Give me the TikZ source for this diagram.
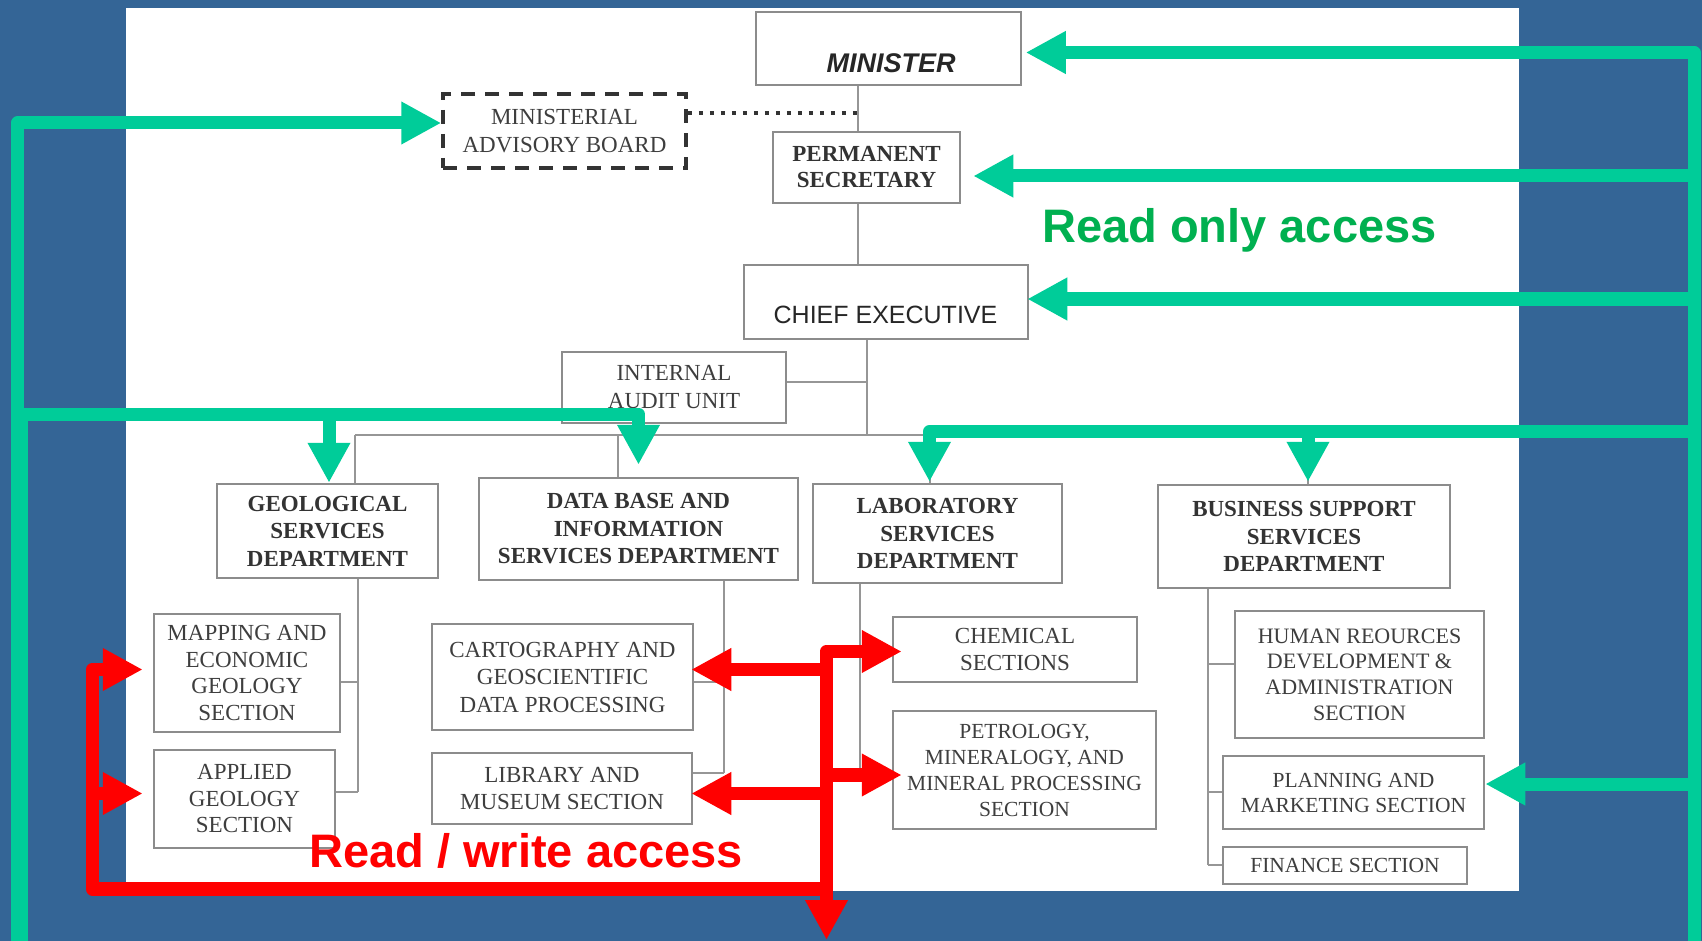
\documentclass[tikz,border=0pt]{standalone}
\usepackage{fontspec}
\setmainfont{Liberation Serif}
\newfontfamily\lsans{Liberation Sans}
\usetikzlibrary{arrows.meta,calc}
\definecolor{bgblue}{RGB}{52,101,150}
\definecolor{gline}{RGB}{0,204,153}
\definecolor{gtext}{RGB}{0,176,80}
\definecolor{rline}{RGB}{255,0,0}
\definecolor{boxgray}{RGB}{140,140,140}
\definecolor{txtgray}{RGB}{62,62,62}
\definecolor{lingray}{RGB}{150,150,150}
\begin{document}
\begin{tikzpicture}[x=1pt,y=-1pt,
  box/.style={draw=boxgray, line width=2.5pt, inner sep=0pt, align=center, text=txtgray, font=\fontsize{23}{26.5}\selectfont},
  dept/.style={box, text=black!80, font=\fontsize{23}{27.5}\selectfont\bfseries},
  link/.style={draw=lingray, line width=2pt},
  dotline/.style={draw=black!80, line width=3.5pt, dash pattern=on 4pt off 7pt},
  tip/.style={Triangle[length=40pt,width=40pt]},
  garrow/.style={draw=gline, line width=13pt, line join=round, -{Triangle[length=40pt,width=40pt]}},
  rarrow/.style={draw=rline, line width=13.5pt, line join=round, -{Triangle[length=40pt,width=40pt]}},
  bigtext/.style={anchor=base west, inner sep=0pt, font=\lsans\bfseries\fontsize{47}{50}\selectfont}
  ]
\useasboundingbox (0,0) rectangle (1702,941);
\fill[bgblue] (0,0) rectangle (1702,941);
\fill[white] (126,8) rectangle (1519,891);

% ---------- boxes ----------
\node[box, minimum width=265pt, minimum height=73pt] (minister) at (888.5,48.5) {};
\node[font=\lsans\bfseries\itshape\fontsize{27}{30}\selectfont, text=black!85, inner sep=0pt] (ministerT) at (891,63) {MINISTER};
\node[box, draw=black!80, line width=3.5pt, dash pattern=on 14pt off 10pt, minimum width=243pt, minimum height=74pt, font=\fontsize{23}{28}\selectfont] (mab) at (564.5,131) {MINISTERIAL\\ADVISORY BOARD};
\node[dept, minimum width=187pt, minimum height=71pt, font=\fontsize{23}{26}\selectfont\bfseries] (ps) at (866.5,167.5) {PERMANENT\\SECRETARY};
\node[box, minimum width=284pt, minimum height=74pt] (ce) at (886,302) {};
\node[font=\lsans\fontsize{25}{28}\selectfont, text=black!85, inner sep=0pt] (ceT) at (885.5,315) {CHIEF EXECUTIVE};
\node[box, minimum width=224pt, minimum height=71pt, font=\fontsize{23}{28}\selectfont] (iau) at (674,387.5) {INTERNAL\\AUDIT UNIT};

\node[dept, minimum width=221pt, minimum height=94pt] (gsd) at (327.5,531) {GEOLOGICAL\\SERVICES\\DEPARTMENT};
\node[dept, minimum width=319pt, minimum height=102pt] (dbis) at (638.5,529) {DATA BASE AND\\INFORMATION\\SERVICES DEPARTMENT};
\node[dept, minimum width=249pt, minimum height=99pt] (lsd) at (937.5,533.5) {LABORATORY\\SERVICES\\DEPARTMENT};
\node[dept, minimum width=292pt, minimum height=103pt] (bssd) at (1304,536.5) {BUSINESS SUPPORT\\SERVICES\\DEPARTMENT};

\node[box, minimum width=186pt, minimum height=118pt] (megs) at (247,673) {MAPPING AND\\ECONOMIC\\GEOLOGY\\SECTION};
\node[box, minimum width=181pt, minimum height=98pt] (ags) at (244.5,799) {APPLIED\\GEOLOGY\\SECTION};
\node[box, minimum width=261pt, minimum height=106pt, font=\fontsize{23}{27.5}\selectfont] (cgdp) at (562.5,677) {CARTOGRAPHY AND\\GEOSCIENTIFIC\\DATA PROCESSING};
\node[box, minimum width=260pt, minimum height=71pt] (lms) at (562,788.5) {LIBRARY AND\\MUSEUM SECTION};
\node[box, minimum width=244pt, minimum height=65pt] (cs) at (1015,649.5) {CHEMICAL\\SECTIONS};
\node[box, minimum width=263pt, minimum height=118pt, font=\fontsize{21.5}{26}\selectfont] (pmmp) at (1024.5,770) {PETROLOGY,\\MINERALOGY, AND\\MINERAL PROCESSING\\SECTION};
\node[box, minimum width=249pt, minimum height=127pt, font=\fontsize{22}{25.7}\selectfont] (hr) at (1359.5,674.5) {HUMAN REOURCES\\DEVELOPMENT \&\\ADMINISTRATION\\SECTION};
\node[box, minimum width=261pt, minimum height=73pt, font=\fontsize{21.5}{25}\selectfont] (pm) at (1353.5,792.5) {PLANNING AND\\MARKETING SECTION};
\node[box, minimum width=244pt, minimum height=37pt, font=\fontsize{21.5}{25}\selectfont] (fs) at (1345,865.5) {FINANCE SECTION};

% ---------- grey links ----------
\coordinate (vMP) at (858,0);
\draw[link] (vMP |- minister.south) -- (vMP |- ps.north);
\draw[link] (vMP |- ps.south) -- (vMP |- ce.north);
\coordinate (dotE) at (858,113);
\draw[dotline] (mab.east |- dotE) -- (dotE);
\coordinate (busC) at (867,435);
\draw[link] (busC |- ce.south) -- (busC);
\coordinate (iauJ) at (867,382);
\draw[link] (iau.east |- iauJ) -- (iauJ);
\coordinate (busL) at (355,435);
\coordinate (busR) at (1308,435);
\draw[link] (busL) -- (busR);
\draw[link] (busL) -- (busL |- gsd.north);
\coordinate (busDB) at (618,435);
\draw[link] (busDB) -- (busDB |- dbis.north);
\coordinate (busLS) at (929.5,435);
\draw[link] (busLS) -- (busLS |- lsd.north);
\draw[link] (busR) -- (busR |- bssd.north);

\coordinate (gsV) at (358,792);
\coordinate (gsA) at (358,682);
\draw[link] (gsV |- gsd.south) -- (gsV);
\draw[link] (megs.east |- gsA) -- (gsA);
\draw[link] (ags.east |- gsV) -- (gsV);

\coordinate (dbV) at (724,773);
\coordinate (dbA) at (724,682);
\draw[link] (dbV |- dbis.south) -- (dbV);
\draw[link] (cgdp.east |- dbA) -- (dbA);
\draw[link] (lms.east |- dbV) -- (dbV);

\coordinate (lsV) at (860,775);
\coordinate (lsA) at (860,652);
\draw[link] (lsV |- lsd.south) -- (lsV);
\draw[link] (lsA) -- (cs.west |- lsA);
\draw[link] (lsV) -- (pmmp.west |- lsV);

\coordinate (bsV) at (1208,865);
\coordinate (bsA) at (1208,664);
\coordinate (bsB) at (1208,792);
\draw[link] (bsV |- bssd.south) -- (bsV);
\draw[link] (bsA) -- (hr.west |- bsA);
\draw[link] (bsB) -- (pm.west |- bsB);
\draw[link] (bsV) -- (fs.west |- bsV);

% ---------- green (read only) ----------
\coordinate (tMin) at ($(minister.east)+(3.5,4)$);
\coordinate (tPS) at ($(ps.east)+(12,8.5)$);
\coordinate (tCE) at ($(ce.east)+(-2,-3)$);
\coordinate (tPMk) at ($(pm.east)+(0,-8.5)$);
\coordinate (tLSD) at ($(lsd.north)+(-8,-1)$);
\coordinate (tBS) at ($(bssd.north)+(4,-2)$);
\coordinate (tMAB) at ($(mab.west)+(0,-8)$);
\coordinate (tGS) at ($(gsd.north)+(1.5,0)$);
\coordinate (tDB) at ($(dbis.north)+(0,-12)$);

\coordinate (gR) at (1694,941);
\coordinate (gBus) at (1694,431.5);
\draw[garrow] (gR) |- (tMin);
\draw[garrow] (gR |- tPS) -- (tPS);
\draw[garrow] (gR |- tCE) -- (tCE);
\draw[garrow] (gR |- tPMk) -- (tPMk);
\draw[garrow] (gBus) -| (tLSD);
\draw[garrow] (tBS |- gBus) -- (tBS);

\coordinate (gL) at (17.5,941);
\coordinate (gL2) at (21.5,941);
\coordinate (gLb) at (21.5,414);
\draw[garrow] (gL) |- (tMAB);
\draw[garrow] (gL2) -- (gLb) -| (tDB);
\draw[garrow] (tGS |- gLb) -- (tGS);

% ---------- red (read / write) ----------
\coordinate (tCS) at ($(cs.west)+(10,2)$);
\coordinate (tCG) at ($(cgdp.east)+(-3,-7.5)$);
\coordinate (tPP) at ($(pmmp.west)+(10,5)$);
\coordinate (tLM) at ($(lms.east)+(-2,5)$);
\coordinate (tME) at ($(megs.west)+(-10,-3.5)$);
\coordinate (tAG) at ($(ags.west)+(-10,-5.5)$);
\coordinate (rTip) at (826.5,940);
\coordinate (rL) at (92.5,889);

\draw[rarrow, {Triangle[length=40pt,width=40pt]}-{Triangle[length=40pt,width=40pt]}] (rTip) |- (tCS);
\draw[rarrow] (rTip |- tCG) -- (tCG);
\draw[rarrow] (rTip |- tPP) -- (tPP);
\draw[rarrow] (rTip |- tLM) -- (tLM);
\draw[rarrow] (rTip |- rL) -- (rL) |- (tME);
\draw[rarrow] (rL |- tAG) -- (tAG);

% ---------- labels ----------
\node[bigtext, text=gtext] (ro) at (1042,243) {Read only access};
\node[bigtext, text=rline] (rw) at (309,867) {Read / write access};
\end{tikzpicture}
\end{document}
